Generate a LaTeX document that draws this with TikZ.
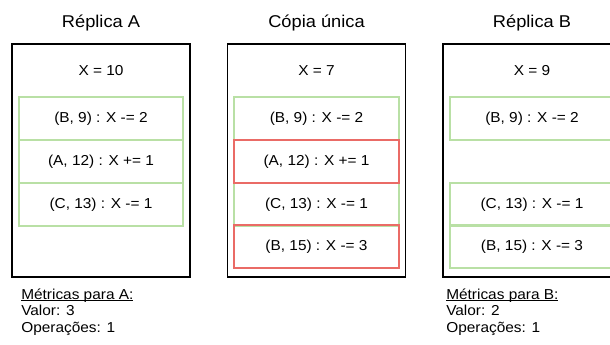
\documentclass[tikz,border=0pt]{standalone}
\usepackage{fontspec}
\setmainfont{Liberation Sans}[FakeStretch=1.07]
\definecolor{okgreen}{HTML}{B9E0A5}
\definecolor{badred}{HTML}{EA6B66}
\newcommand{\ulpt}[1]{\setbox0\hbox{#1}\rlap{\rule[-1.6pt]{\wd0}{0.6pt}}\box0}
\begin{document}
\begin{tikzpicture}[x=0.75pt,y=-0.75pt,
  body/.style={font=\fontsize{10.8}{12}\selectfont},
  title/.style={font=\fontsize{12.8}{14}\selectfont, anchor=base, inner sep=0pt},
  outerbox/.style={draw=black, line width=1.1pt, minimum width=133.5pt, minimum height=174.75pt, inner sep=0pt},
  row/.style={draw=okgreen, line width=1.5pt, minimum width=123.5pt, minimum height=32.25pt, inner sep=0pt, body},
  badrow/.style={row, draw=badred},
  val/.style={body, anchor=base, inner sep=0pt},
  metric/.style={body, anchor=base west, inner sep=0pt}]
\useasboundingbox (0,0) rectangle (610,345);
\begin{scope}
\clip (0,0) rectangle (610,345);
% titles
\node[title] (tA) at (101,27.5) {Réplica A};
\node[title] (tC) at (316.5,27.5) {Cópia única};
\node[title] (tB) at (532,27.5) {Réplica B};
% outer boxes
\node[outerbox] (boxA) at (101,160.5) {};
\node[outerbox] (boxC) at (316.5,160.5) {};
\node[outerbox] (boxB) at (532,160.5) {};
% values
\node[val] (vA) at (101,76) {X = 10};
\node[val] (vC) at (316.5,76) {X = 7};
\node[val] (vB) at (532,76) {X = 9};
% replica A rows
\node[row] (a1) at (101,118.5) {(B, 9) : X -= 2};
\node[row] (a2) at (101,161.5) {(A, 12) : X += 1};
\node[row] (a3) at (101,204.5) {(C, 13) : X -= 1};
% single copy rows
\node[row] (c1) at (316.5,118.5) {(B, 9) : X -= 2};
\node[row] (c3) at (316.5,204.5) {(C, 13) : X -= 1};
\node[badrow] (c2) at (316.5,161.5) {(A, 12) : X += 1};
\node[badrow] (c4) at (316.5,247) {(B, 15) : X -= 3};
% replica B rows
\node[row] (b1) at (532,118.5) {(B, 9) : X -= 2};
\node[row] (b3) at (532,204.5) {(C, 13) : X -= 1};
\node[row] (b4) at (532,247) {(B, 15) : X -= 3};
% metrics
\node[metric] (mA1) at (21,299) {\ulpt{Métricas para A:}};
\node[metric] (mA2) at (21,315.5) {Valor: 3};
\node[metric] (mA3) at (21,332) {Operações: 1};
\node[metric] (mB1) at (446,299) {\ulpt{Métricas para B:}};
\node[metric] (mB2) at (446,315.5) {Valor: 2};
\node[metric] (mB3) at (446,332) {Operações: 1};
\end{scope}
\end{tikzpicture}
\end{document}
